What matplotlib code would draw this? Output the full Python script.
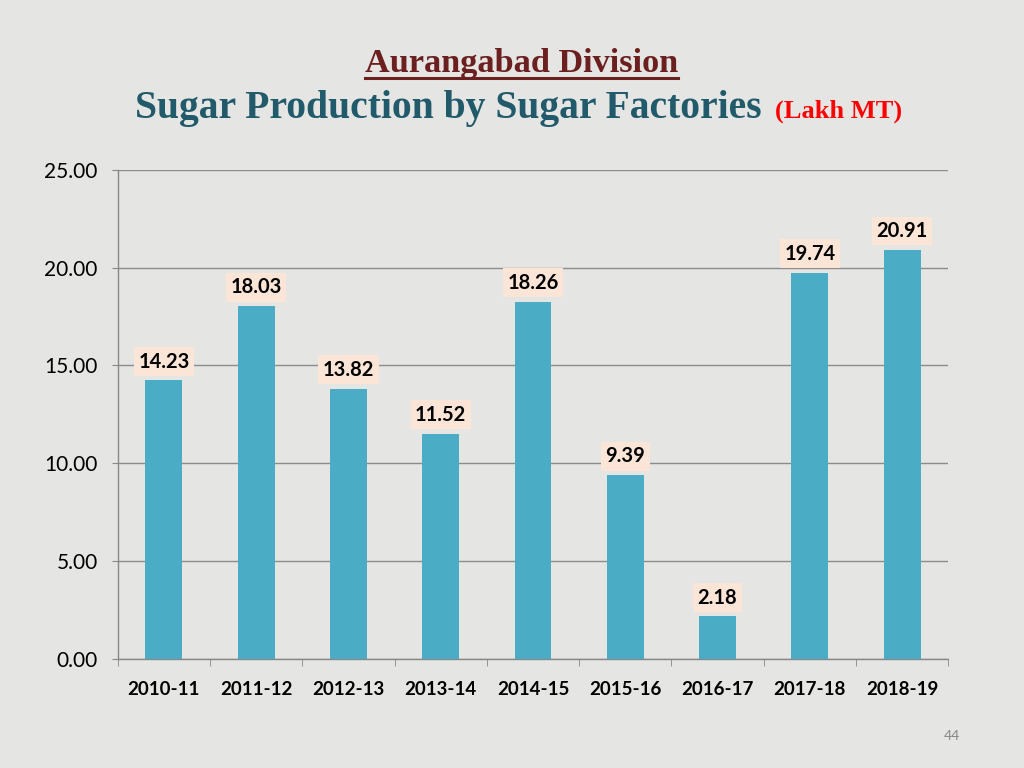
import matplotlib.pyplot as plt
from matplotlib.lines import Line2D

# data
seasons = ['2010-11', '2011-12', '2012-13', '2013-14', '2014-15',
           '2015-16', '2016-17', '2017-18', '2018-19']
production = [14.23, 18.03, 13.82, 11.52, 18.26, 9.39, 2.18, 19.74, 20.91]
yticks = [0, 5, 10, 15, 20, 25]

bg = '#e5e5e3'
bar_col = '#4bacc6'

fig = plt.figure(figsize=(10.24, 7.68), dpi=100, facecolor=bg)
ax = fig.add_axes([0.115, 0.142, 0.811, 0.637])
ax.set_facecolor(bg)

x = range(len(seasons))
bars = ax.bar(x, production, width=0.4, color=bar_col, zorder=3)

# value labels
for xi, v in zip(x, production):
    ax.annotate('%.2f' % v, (xi, v), xytext=(0, 13.5), textcoords='offset points',
                ha='center', va='center', fontsize=14.5, fontweight='bold',
                family='Lato', color='black', zorder=4,
                bbox=dict(boxstyle='square,pad=0.22', fc='#fbe5d6', ec='none'))

ax.set_xlim(-0.5, len(seasons) - 0.5)
ax.set_ylim(0, 25)
ax.set_yticks(yticks)
ax.set_yticklabels(['%.2f' % t for t in yticks], fontsize=15, family='Lato')
ax.set_xticks(list(x))
ax.set_xticklabels(seasons, fontsize=13.5, fontweight='bold', family='Lato')
ax.set_xticks([i - 0.5 for i in range(len(seasons) + 1)], minor=True)
ax.tick_params(axis='x', which='major', length=0, pad=16)
ax.tick_params(axis='x', which='minor', length=5, color='#888888', direction='out')
ax.tick_params(axis='y', length=4.5, color='#888888', pad=10)
ax.grid(axis='y', color='#8c8c8c', linewidth=1, zorder=1)
for s in ['top', 'right']:
    ax.spines[s].set_visible(False)
for s in ['left', 'bottom']:
    ax.spines[s].set_color('#888888')
    ax.spines[s].set_linewidth(1)

# titles
fig.text(0.509, 0.906, 'Aurangabad Division', ha='center', va='baseline',
         fontsize=24.7, fontweight='bold', family='Liberation Serif', color='#6b1f1f')
fig.add_artist(Line2D([0.356, 0.662], [0.898, 0.898], color='#6b1f1f', linewidth=2.2))
fig.text(0.132, 0.847, 'Sugar Production by Sugar Factories', ha='left', va='baseline',
         fontsize=28.5, fontweight='bold', family='Liberation Serif', color='#215a6b')
fig.text(0.757, 0.847, '(Lakh MT)', ha='left', va='baseline',
         fontsize=19, fontweight='bold', family='Liberation Serif', color='#ff0000')

fig.text(0.930, 0.042, '44', ha='center', va='center', fontsize=10,
         family='Lato', color='#888888')

fig.savefig('out.png', dpi=100, facecolor=bg)
